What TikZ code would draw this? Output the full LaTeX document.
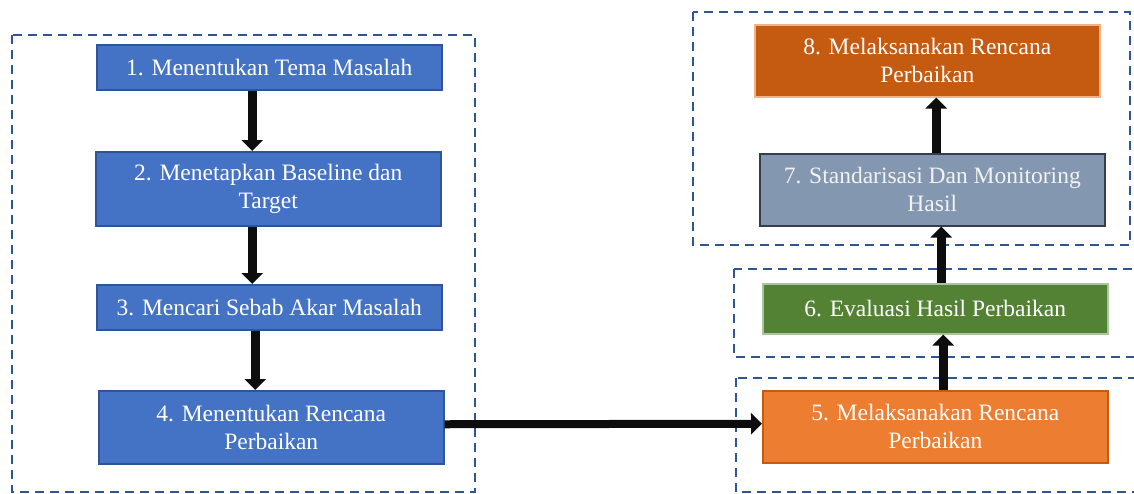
\documentclass[tikz,border=0pt]{standalone}
\usepackage{fontspec}
\setmainfont{Liberation Serif}
\usetikzlibrary{arrows.meta}
\definecolor{bluefill}{HTML}{4472C4}
\definecolor{blueedge}{HTML}{2F5597}
\definecolor{dashblue}{HTML}{2F5597}
\definecolor{orgdark}{HTML}{C55A11}
\definecolor{orgdarkedge}{HTML}{F4B183}
\definecolor{orgfill}{HTML}{ED7D31}
\definecolor{orgedge}{HTML}{C55A11}
\definecolor{greyfill}{HTML}{8497B0}
\definecolor{greyedge}{HTML}{333F50}
\definecolor{greenfill}{HTML}{548235}
\definecolor{greenedge}{HTML}{A9C59A}
\tikzset{
  stepbox/.style={draw, line width=1.5pt, anchor=north west, inner sep=0pt,
    minimum width=345pt, text=white, align=center,
    font=\fontsize{23.5}{28}\selectfont},
  group/.style={draw=dashblue, line width=2pt, dash pattern=on 9pt off 6pt},
  flow/.style={line width=9pt, black!95, -{Triangle[width=21pt,length=11pt]}},
}
\begin{document}
\begin{tikzpicture}[x=1pt,y=-1pt]
\useasboundingbox (0,0) rectangle (1134,493);
\clip (0,0) rectangle (1134,493);
% groups
\draw[group] (12,35) rectangle (475,492);
\draw[group] (693,12) rectangle (1130,245);
\draw[group] (734,269) rectangle (1145,357);
\draw[group] (736,378) rectangle (1145,492);
% steps
\node[stepbox, fill=bluefill, draw=blueedge, minimum height=45pt] (b1) at (96,44) {1. Menentukan Tema Masalah};
\node[stepbox, fill=bluefill, draw=blueedge, minimum height=74pt] (b2) at (95,151) {2. Menetapkan Baseline dan\\Target};
\node[stepbox, fill=bluefill, draw=blueedge, minimum height=45pt] (b3) at (96,284) {3. Mencari Sebab Akar Masalah};
\node[stepbox, fill=bluefill, draw=blueedge, minimum height=73pt] (b4) at (98,390) {4. Menentukan Rencana\\Perbaikan};
\node[stepbox, fill=orgfill, draw=orgedge, minimum height=72pt] (b5) at (762,390) {5. Melaksanakan Rencana\\Perbaikan};
\node[stepbox, fill=greenfill, draw=greenedge, minimum height=50pt] (b6) at (762,283) {6. Evaluasi Hasil Perbaikan};
\node[stepbox, fill=greyfill, draw=greyedge, minimum height=72pt, text=white!95!black] (b7) at (759,153) {7. Standarisasi Dan Monitoring\\Hasil};
\node[stepbox, fill=orgdark, draw=orgdarkedge, minimum height=72pt] (b8) at (754,24) {8. Melaksanakan Rencana\\Perbaikan};
% connectors
\draw[flow] ([xshift=-17pt]b1.south) -- ([xshift=-16pt]b2.north);
\draw[flow] ([xshift=-16pt]b2.south) -- ([xshift=-17pt]b3.north);
\draw[flow] ([xshift=-14pt]b3.south) -- ([xshift=-16pt]b4.north);
\draw[flow, line width=8pt] ([yshift=3pt]b4.east) -- ([yshift=3pt]b5.west);
\draw[flow] ([xshift=8pt]b5.north) -- ([xshift=8pt]b6.south);
\draw[flow] ([xshift=6pt]b6.north) -- ([xshift=9pt]b7.south);
\draw[flow] ([xshift=4pt]b7.north) -- ([xshift=9pt]b8.south);
\end{tikzpicture}
\end{document}
